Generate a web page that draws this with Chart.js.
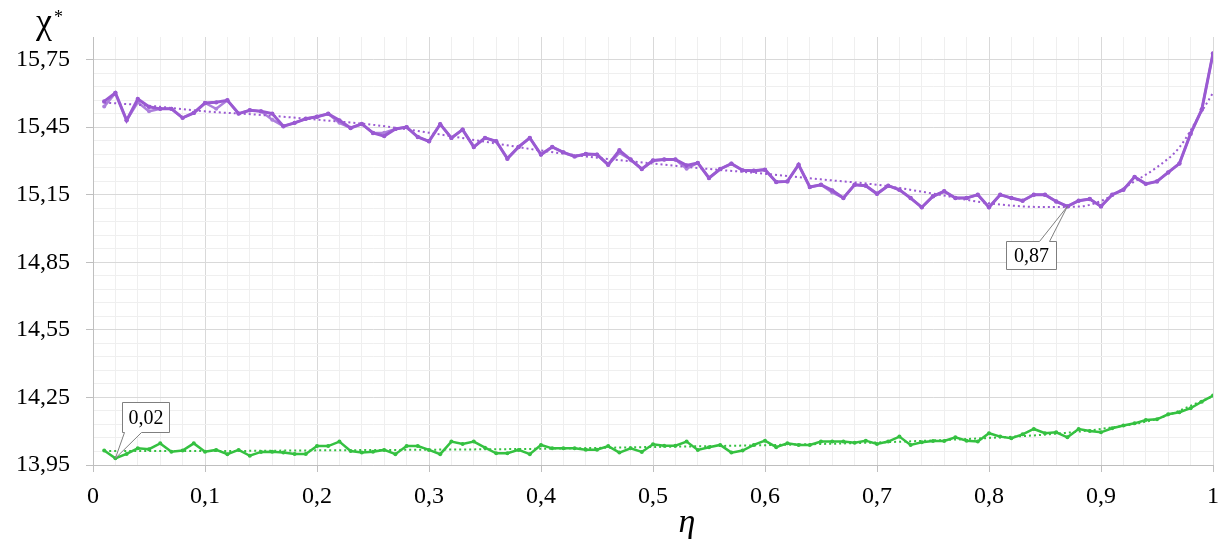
<!DOCTYPE html>
<html>
<head>
  <meta charset="utf-8">
  <title>χ* vs η</title>
  <script src="https://cdn.jsdelivr.net/npm/chart.js"></script>
  <style>
    body { margin: 0; background: #fff; }
    #chart { display: block; }
  </style>
</head>
<body>
  <canvas id="chart" width="1218" height="545"></canvas>

  <script>
    // eta values (x axis)
    const eta = [
      0.01, 0.02, 0.03, 0.04, 0.05, 0.06, 0.07, 0.08, 0.09, 0.10,
      0.11, 0.12, 0.13, 0.14, 0.15, 0.16, 0.17, 0.18, 0.19, 0.20,
      0.21, 0.22, 0.23, 0.24, 0.25, 0.26, 0.27, 0.28, 0.29, 0.30,
      0.31, 0.32, 0.33, 0.34, 0.35, 0.36, 0.37, 0.38, 0.39, 0.40,
      0.41, 0.42, 0.43, 0.44, 0.45, 0.46, 0.47, 0.48, 0.49, 0.50,
      0.51, 0.52, 0.53, 0.54, 0.55, 0.56, 0.57, 0.58, 0.59, 0.60,
      0.61, 0.62, 0.63, 0.64, 0.65, 0.66, 0.67, 0.68, 0.69, 0.70,
      0.71, 0.72, 0.73, 0.74, 0.75, 0.76, 0.77, 0.78, 0.79, 0.80,
      0.81, 0.82, 0.83, 0.84, 0.85, 0.86, 0.87, 0.88, 0.89, 0.90,
      0.91, 0.92, 0.93, 0.94, 0.95, 0.96, 0.97, 0.98, 0.99, 1.00
    ];

    // upper (purple) curve
    const purpleA = [
      15.564, 15.602, 15.480, 15.575, 15.540, 15.531, 15.531, 15.491, 15.513, 15.557,
      15.560, 15.569, 15.510, 15.525, 15.520, 15.510, 15.454, 15.469, 15.487, 15.496,
      15.509, 15.480, 15.446, 15.464, 15.424, 15.410, 15.442, 15.450, 15.406, 15.387,
      15.463, 15.402, 15.439, 15.362, 15.402, 15.387, 15.310, 15.362, 15.402, 15.328,
      15.362, 15.338, 15.320, 15.331, 15.328, 15.283, 15.347, 15.306, 15.264, 15.302,
      15.306, 15.306, 15.280, 15.291, 15.224, 15.264, 15.288, 15.258, 15.256, 15.261,
      15.206, 15.209, 15.283, 15.184, 15.194, 15.169, 15.135, 15.194, 15.190, 15.154,
      15.190, 15.172, 15.135, 15.094, 15.143, 15.165, 15.135, 15.135, 15.150, 15.094,
      15.150, 15.135, 15.123, 15.150, 15.150, 15.120, 15.098, 15.123, 15.131, 15.098,
      15.150, 15.172, 15.229, 15.198, 15.209, 15.249, 15.288, 15.421, 15.528, 15.777
    ];

    // second purple run, nearly on top of the first
    const purpleB = [
      15.541, 15.602, 15.480, 15.560, 15.520, 15.531, 15.531, 15.491, 15.513, 15.557,
      15.531, 15.569, 15.510, 15.525, 15.520, 15.483, 15.454, 15.469, 15.487, 15.496,
      15.509, 15.469, 15.446, 15.464, 15.424, 15.425, 15.442, 15.450, 15.406, 15.387,
      15.463, 15.402, 15.439, 15.362, 15.402, 15.387, 15.310, 15.362, 15.402, 15.328,
      15.362, 15.338, 15.320, 15.331, 15.328, 15.283, 15.335, 15.306, 15.264, 15.302,
      15.306, 15.306, 15.265, 15.291, 15.224, 15.264, 15.288, 15.258, 15.256, 15.261,
      15.206, 15.209, 15.283, 15.184, 15.194, 15.160, 15.135, 15.194, 15.190, 15.154,
      15.190, 15.172, 15.135, 15.094, 15.143, 15.165, 15.135, 15.135, 15.150, 15.094,
      15.150, 15.135, 15.123, 15.150, 15.150, 15.120, 15.098, 15.123, 15.131, 15.098,
      15.150, 15.172, 15.229, 15.198, 15.209, 15.249, 15.288, 15.421, 15.528, 15.777
    ];

    // lower (green) curve
    const green = [
      14.014, 13.980, 13.999, 14.024, 14.020, 14.046, 14.009, 14.014, 14.046, 14.009,
      14.017, 13.998, 14.017, 13.991, 14.008, 14.009, 14.005, 13.999, 13.999, 14.034,
      14.034, 14.054, 14.012, 14.006, 14.009, 14.017, 13.998, 14.034, 14.034, 14.017,
      13.998, 14.054, 14.043, 14.054, 14.027, 14.002, 14.002, 14.017, 13.998, 14.039,
      14.024, 14.024, 14.024, 14.018, 14.018, 14.034, 14.005, 14.024, 14.008, 14.042,
      14.036, 14.036, 14.054, 14.017, 14.029, 14.039, 14.005, 14.014, 14.039, 14.058,
      14.029, 14.046, 14.039, 14.039, 14.054, 14.054, 14.054, 14.049, 14.058, 14.043,
      14.054, 14.076, 14.039, 14.051, 14.057, 14.057, 14.073, 14.058, 14.054, 14.091,
      14.076, 14.069, 14.086, 14.110, 14.091, 14.095, 14.073, 14.110, 14.101, 14.095,
      14.113, 14.125, 14.135, 14.150, 14.153, 14.175, 14.184, 14.202, 14.231, 14.258
    ];

    // dotted trend lines, read at a coarser step
    const purpleTrendX = [0.01, 0.05, 0.10, 0.15, 0.20, 0.25, 0.30, 0.35, 0.40, 0.45, 0.50,
                          0.55, 0.60, 0.65, 0.70, 0.75, 0.80, 0.85, 0.88, 0.90, 0.93, 0.95, 0.97, 0.99, 1.00];
    const purpleTrend  = [15.559, 15.545, 15.520, 15.504, 15.483, 15.460, 15.425, 15.385, 15.346, 15.314, 15.288,
                          15.264, 15.243, 15.218, 15.194, 15.155, 15.112, 15.095, 15.097, 15.122, 15.209, 15.272, 15.360, 15.520, 15.602];
    const greenTrendX = [0.01, 0.10, 0.20, 0.30, 0.40, 0.50, 0.60, 0.70, 0.80, 0.85, 0.90, 0.95, 1.00];
    const greenTrend  = [14.012, 14.012, 14.015, 14.018, 14.022, 14.030, 14.038, 14.050, 14.070, 14.085, 14.110, 14.155, 14.255];

    // tick labels
    const xTickLabels = ['0', '0,1', '0,2', '0,3', '0,4', '0,5', '0,6', '0,7', '0,8', '0,9', '1'];
    const yTickLabels = ['13,95', '14,25', '14,55', '14,85', '15,15', '15,45', '15,75'];

    const pts = (xs, ys) => xs.map((x, i) => ({ x: x, y: ys[i] }));

    const serif = "'Liberation Serif', 'Times New Roman', serif";
    const PURPLE = '#9a5ad2';
    const PURPLE2 = '#ad80dc';
    const GREEN = '#35c141';

    // callouts: value label boxes with a pointer
    const callouts = [
      { at: 0.87, val: purpleA[86], text: '0,87', dx: -61, dy: 35, w: 50, h: 28, side: 'top', w0: 33, w1: 43 },
      { at: 0.02, val: green[1], text: '0,02', dx: 7, dy: -56, w: 47, h: 30, side: 'bottom', w0: 2, w1: 19 }
    ];

    const extras = {
      id: 'extras',
      afterDatasetsDraw(chart) {
        const ctx = chart.ctx;
        const xs = chart.scales.x, ys = chart.scales.y;
        ctx.save();
        callouts.forEach(c => {
          const ax = xs.getPixelForValue(c.at);
          const ay = ys.getPixelForValue(c.val);
          const l = Math.round(ax + c.dx) + 0.5, t = Math.round(ay + c.dy) + 0.5;
          const r = l + c.w, b = t + c.h;
          ctx.beginPath();
          if (c.side === 'top') {
            ctx.moveTo(l, t);
            ctx.lineTo(l + c.w0, t);
            ctx.lineTo(ax, ay);
            ctx.lineTo(l + c.w1, t);
            ctx.lineTo(r, t);
            ctx.lineTo(r, b);
            ctx.lineTo(l, b);
          } else {
            ctx.moveTo(l, t);
            ctx.lineTo(r, t);
            ctx.lineTo(r, b);
            ctx.lineTo(l + c.w1, b);
            ctx.lineTo(ax, ay);
            ctx.lineTo(l + c.w0, b);
            ctx.lineTo(l, b);
          }
          ctx.closePath();
          ctx.fillStyle = '#fff';
          ctx.fill();
          ctx.strokeStyle = '#7f7f7f';
          ctx.lineWidth = 1;
          ctx.stroke();
          ctx.fillStyle = '#000';
          ctx.font = '20px ' + serif;
          ctx.textAlign = 'center';
          ctx.textBaseline = 'middle';
          ctx.fillText(c.text, l + c.w / 2, t + c.h / 2 + 1);
        });

        // axis names
        ctx.fillStyle = '#000';
        ctx.textAlign = 'left';
        ctx.textBaseline = 'alphabetic';
        ctx.font = '36px ' + serif;
        ctx.fillText('χ', 36, 33);
        ctx.font = '18px ' + serif;
        ctx.fillText('*', 54, 23);
        ctx.font = 'italic 34px ' + serif;
        ctx.textAlign = 'center';
        ctx.fillText('η', 687, 532);
        ctx.restore();
      }
    };

    const lineSet = (label, data, color, width, radius) => ({
      label: label,
      data: data,
      borderColor: color,
      backgroundColor: color,
      borderWidth: width,
      pointRadius: radius,
      pointBorderWidth: 0,
      pointBackgroundColor: color,
      tension: 0
    });

    const trendSet = (label, data, color) => ({
      label: label,
      data: data,
      borderColor: color,
      borderWidth: 2,
      borderDash: [2, 3],
      pointRadius: 0,
      cubicInterpolationMode: 'monotone',
      fill: false
    });

    new Chart(document.getElementById('chart'), {
      type: 'line',
      data: {
        datasets: [
          trendSet('purple trend', pts(purpleTrendX, purpleTrend), PURPLE),
          trendSet('green trend', pts(greenTrendX, greenTrend), GREEN),
          lineSet('purple A', pts(eta, purpleA), PURPLE, 3, 2.2),
          lineSet('purple B', pts(eta, purpleB), PURPLE2, 2.5, 2),
          lineSet('green', pts(eta, green), GREEN, 2.5, 2)
        ]
      },
      options: {
        responsive: false,
        animation: false,
        layout: { padding: { top: 37, right: 5, left: 0, bottom: 0 } },
        plugins: {
          legend: { display: false },
          tooltip: { enabled: false }
        },
        scales: {
          x: {
            type: 'linear',
            min: 0,
            max: 1,
            afterFit(scale) {
              scale.height = 80;
              scale.paddingLeft = 0;
              scale.paddingRight = 0;
            },
            afterBuildTicks(scale) {
              const t = [];
              for (let i = 0; i <= 50; i++) t.push({ value: i / 50, major: i % 5 === 0 });
              scale.ticks = t;
            },
            grid: {
              color: c => (c.tick && c.tick.major) ? '#d9d9d9' : '#efefef',
              tickColor: c => (c.tick && c.tick.major) ? '#bfbfbf' : 'rgba(0,0,0,0)',
              tickLength: 7,
              lineWidth: 1
            },
            border: { color: '#bfbfbf' },
            ticks: {
              autoSkip: false,
              maxRotation: 0,
              padding: 10,
              color: '#000',
              font: { family: serif, size: 24 },
              major: { enabled: false },
              callback: (v, i) => (i % 5 === 0 ? xTickLabels[i / 5] : '')
            }
          },
          y: {
            type: 'linear',
            min: 13.95,
            max: 15.85,
            afterFit(scale) {
              scale.width = 93;
              scale.paddingTop = 0;
              scale.paddingBottom = 0;
            },
            afterBuildTicks(scale) {
              const t = [];
              for (let i = 0; i <= 30; i++) t.push({ value: 13.95 + i * 0.06, major: i % 5 === 0 });
              scale.ticks = t;
            },
            grid: {
              color: c => (c.tick && c.tick.major) ? '#d9d9d9' : '#efefef',
              tickColor: c => (c.tick && c.tick.major) ? '#bfbfbf' : 'rgba(0,0,0,0)',
              tickLength: 7,
              lineWidth: 1
            },
            border: { color: '#bfbfbf' },
            ticks: {
              autoSkip: false,
              padding: 16,
              color: '#000',
              font: { family: serif, size: 24 },
              major: { enabled: false },
              callback: (v, i) => (i % 5 === 0 ? yTickLabels[i / 5] : '')
            }
          }
        }
      },
      plugins: [extras]
    });
  </script>
</body>
</html>
